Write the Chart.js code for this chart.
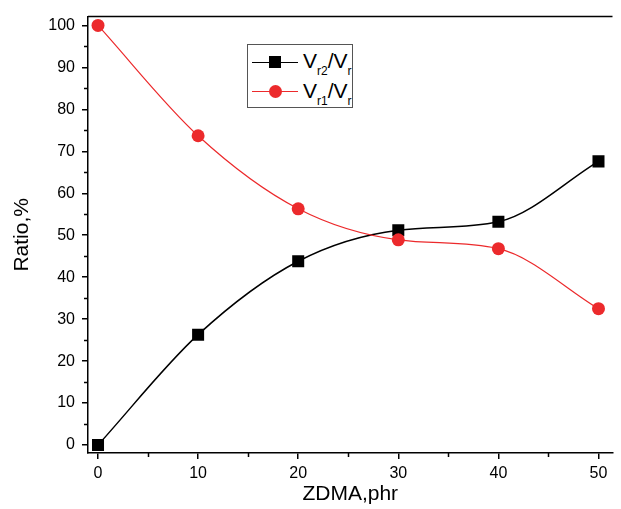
<!DOCTYPE html>
<html>
<head>
<meta charset="utf-8">
<script src="https://cdn.jsdelivr.net/npm/chart.js@4.4.1/dist/chart.umd.min.js"></script>
<style>
  body { margin: 0; background: #fff; }
  #wrap { position: relative; width: 621px; height: 509px; overflow: hidden; }
  #legend {
    position: absolute; left: 247px; top: 44px; width: 104px; height: 62px;
    border: 1px solid #555; background: #fff;
    font-family: "Liberation Sans", Arial, sans-serif; color: #000;
    -webkit-font-smoothing: antialiased;
  }
  .key { position: absolute; left: 4px; width: 46px; height: 0; }
  .key .ln { position: absolute; left: 0; right: 0; top: 0; }
  .key .mk { position: absolute; left: 50%; }
  .lbl { position: absolute; left: 55px; font-size: 21px; line-height: 21px; white-space: nowrap; }
  .lbl sub { font-size: 12px; vertical-align: -7px; line-height: 0; }
</style>
</head>
<body>
<div id="wrap">
  <canvas id="chartContainer" width="621" height="509"></canvas>
  <div id="legend">
    <div class="key" style="top:17px">
      <div class="ln" style="border-top:1.5px solid #000"></div>
      <div class="mk" style="width:12px;height:12px;background:#000;margin:-6px 0 0 -6px"></div>
    </div>
    <div class="lbl" style="top:5px">V<sub>r2</sub>/V<sub>r</sub></div>
    <div class="key" style="top:46px">
      <div class="ln" style="border-top:1px solid #ec2a2c"></div>
      <div class="mk" style="width:13px;height:13px;border-radius:50%;background:#ec2a2c;margin:-6px 0 0 -6px"></div>
    </div>
    <div class="lbl" style="top:35px">V<sub>r1</sub>/V<sub>r</sub></div>
  </div>
</div>
<script>
// ZDMA content, phr
const zdma = [0, 10, 20, 30, 40, 50];
// Vr2/Vr and Vr1/Vr ratios, %
const vr2Ratio = [0, 26.3, 43.8, 51.2, 53.2, 67.6];
const vr1Ratio = [100, 73.7, 56.3, 48.9, 46.8, 32.5];
// minor tick positions
const xMinor = [5, 15, 25, 35, 45];
const yMinor = [5, 15, 25, 35, 45, 55, 65, 75, 85, 95];

const blackColor = '#000000';
const redColor = '#ec2a2c';
const fontFamily = '"Liberation Sans", Arial, sans-serif';

function toPoints(ys) {
    return zdma.map((x, i) => ({ x: x, y: ys[i] }));
}

// top frame line and the small minor ticks
const framePlugin = {
    id: 'framePlugin',
    afterDraw(chart) {
        const ctx = chart.ctx;
        const a = chart.chartArea;
        const xs = chart.scales.x;
        const ys = chart.scales.y;
        ctx.save();
        ctx.strokeStyle = '#000';
        ctx.lineWidth = 1.5;
        ctx.beginPath();
        ctx.moveTo(a.left, a.top);
        ctx.lineTo(a.right, a.top);
        xMinor.forEach(v => {
            const px = Math.round(xs.getPixelForValue(v)) + 0.5;
            ctx.moveTo(px, a.bottom);
            ctx.lineTo(px, a.bottom + 4);
        });
        yMinor.forEach(v => {
            const py = Math.round(ys.getPixelForValue(v)) + 0.5;
            ctx.moveTo(a.left, py);
            ctx.lineTo(a.left - 4, py);
        });
        ctx.stroke();
        ctx.restore();
    }
};

let chartContainer = document.getElementById('chartContainer');
let chart = new Chart(chartContainer, {
    type: 'line',
    data: {
        datasets: [
            {
                label: 'Vr1/Vr',
                data: toPoints(vr1Ratio),
                borderColor: redColor,
                backgroundColor: redColor,
                borderWidth: 1.2,
                pointStyle: 'circle',
                pointRadius: 6.5,
                pointBorderWidth: 0,
                cubicInterpolationMode: 'monotone',
                fill: false
            },
            {
                label: 'Vr2/Vr',
                data: toPoints(vr2Ratio),
                borderColor: blackColor,
                backgroundColor: blackColor,
                borderWidth: 1.5,
                pointStyle: 'rect',
                pointRadius: 8.5,
                pointBorderWidth: 0,
                cubicInterpolationMode: 'monotone',
                fill: false
            }
        ]
    },
    options: {
        responsive: false,
        animation: false,
        layout: { padding: { top: 15, right: 0, left: 0, bottom: 0 } },
        plugins: {
            legend: { display: false },
            tooltip: { enabled: false }
        },
        scales: {
            x: {
                type: 'linear',
                min: -1,
                max: 51.4,
                afterFit: s => { s.height = 56; },
                border: { display: true, color: '#000', width: 1.5 },
                grid: { display: true, drawOnChartArea: false, tickLength: 6, color: '#000', lineWidth: 1.5 },
                ticks: { stepSize: 10, includeBounds: false, color: '#000', padding: 5, maxRotation: 0,
                    font: { family: fontFamily, size: 16 } },
                title: { display: true, text: 'ZDMA,phr', color: '#000', padding: { top: 0, bottom: 2 },
                    font: { family: fontFamily, size: 21 } }
            },
            y: {
                min: -1.9,
                max: 102.1,
                afterFit: s => { s.width = 88; },
                border: { display: true, color: '#000', width: 1.5 },
                grid: { display: true, drawOnChartArea: false, tickLength: 6, color: '#000', lineWidth: 1.5 },
                ticks: { stepSize: 10, includeBounds: false, color: '#000', padding: 7,
                    font: { family: fontFamily, size: 16 } },
                title: { display: true, text: 'Ratio,%', color: '#000', padding: { top: 10, bottom: 0 },
                    font: { family: fontFamily, size: 21 } }
            }
        }
    },
    plugins: [framePlugin]
});
</script>
</body>
</html>
